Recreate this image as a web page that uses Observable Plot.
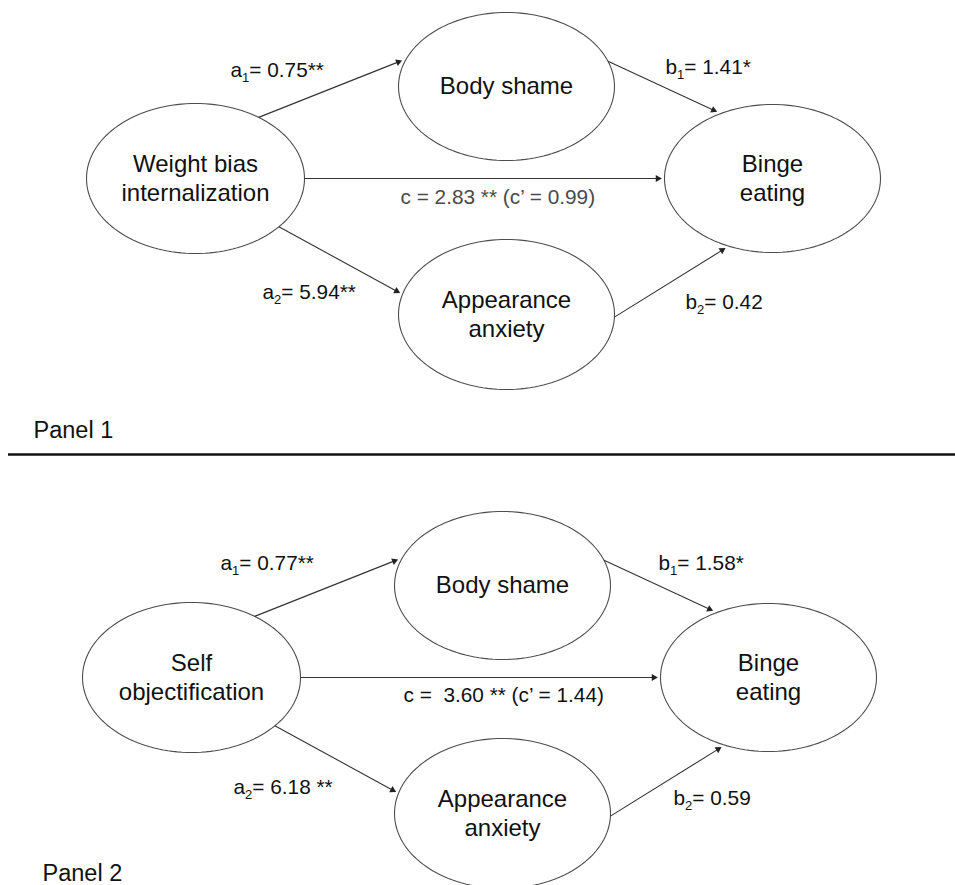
<!DOCTYPE html>
<html><head><meta charset="utf-8">
<script src="https://cdn.jsdelivr.net/npm/d3@7"></script>
<script src="https://cdn.jsdelivr.net/npm/@observablehq/plot@0.6"></script>
<style>
html,body{margin:0;padding:0;background:#fff;}
#chart svg text{white-space:pre;}
</style></head><body><div id="chart"></div>
<script>
// ---------------- data ----------------
const panels = ["Panel 1", "Panel 2"];
const predictors = ["Weight bias\ninternalization", "Self\nobjectification"];
const mediators = ["Body shame", "Appearance\nanxiety"];
const outcomeName = "Binge\neating";
const a1Values = [0.75, 0.77];
const a1Sig = ["**", "**"];
const a2Values = [5.94, 6.18];
const a2Sig = ["**", " **"];
const b1Values = [1.41, 1.58];
const b1Sig = ["*", "*"];
const b2Values = [0.42, 0.59];
const b2Sig = ["", ""];
const cValues = [2.83, 3.60];
const cSig = ["**", "**"];
const cPrimeValues = [0.99, 1.44];
const cSpacing = [" ", "  "];

// ---------------- layout (positions & styles) ----------------
const W = 955, H = 885;
const panelShift = [{dx: 0, dy: 0}, {dx: -4, dy: 499}];
const nodeGeom = {
  X:  {cx: 195, cy: 178, rx: 109, ry: 75},
  M1: {cx: 506, cy: 86,  rx: 108, ry: 74},
  M2: {cx: 506, cy: 314, rx: 108, ry: 75},
  Y:  {cx: 772, cy: 178, rx: 108, ry: 74}
};
const edgeGeom = [
  {from: "X",  to: "M1", a0: -54.6, a1: -160.6},
  {from: "X",  to: "Y",  a0: 0,     a1: 180},
  {from: "X",  to: "M2", a0: 40.1,  a1: 196.2},
  {from: "M1", to: "Y",  a0: -19.9, a1: -120.2},
  {from: "M2", to: "Y",  a0: 2,     a1: 115.3}
];
const labelPos = [
  {a1: [230, 70], b1: [665, 67], c: [400, 197], a2: [262, 292], b2: [685, 302], panel: [33, 430]},
  {a1: [220, 563], b1: [658, 563], c: [403, 695], a2: [233, 787], b2: [673, 798], panel: [42, 873]}
];
const dividerY = 454;

// ---------------- build tables ----------------
function pt(g, deg, gap, s) {
  const t = deg * Math.PI / 180;
  return [g.cx + (g.rx + gap) * Math.cos(t) + s.dx, g.cy + (g.ry + gap) * Math.sin(t) + s.dy];
}
const ellipsePts = [];
const nodeLabels = [];
const links = [];
const heads = [];
const edgeLabels = [];
const panelLabels = [];
panels.forEach((p, i) => {
  const s = panelShift[i];
  const names = {X: predictors[i], M1: mediators[0], M2: mediators[1], Y: outcomeName};
  Object.entries(nodeGeom).forEach(([k, g]) => {
    for (let j = 0; j < 144; j++) {
      const [x, y] = pt(g, j * 2.5, 0, s);
      ellipsePts.push({id: p + k, x, y});
    }
    nodeLabels.push({x: g.cx + s.dx, y: g.cy + s.dy, text: names[k]});
  });
  edgeGeom.forEach(e => {
    const [x1, y1] = pt(nodeGeom[e.from], e.a0, 0, s);
    const [tx, ty] = pt(nodeGeom[e.to], e.a1, 3.5, s);
    const len = Math.hypot(tx - x1, ty - y1);
    const ux = (tx - x1) / len, uy = (ty - y1) / len;
    links.push({x1, y1, x2: tx - ux * 3, y2: ty - uy * 3});
    heads.push({x: tx - ux * 3.2, y: ty - uy * 3.2, rotate: Math.atan2(uy, ux) * 180 / Math.PI + 90});
  });
  const L = labelPos[i];
  edgeLabels.push({x: L.a1[0], y: L.a1[1], text: `a_1= ${a1Values[i].toFixed(2)}${a1Sig[i]}`, gray: false});
  edgeLabels.push({x: L.a2[0], y: L.a2[1], text: `a_2= ${a2Values[i].toFixed(2)}${a2Sig[i]}`, gray: false});
  edgeLabels.push({x: L.b1[0], y: L.b1[1], text: `b_1= ${b1Values[i].toFixed(2)}${b1Sig[i]}`, gray: false});
  edgeLabels.push({x: L.b2[0], y: L.b2[1], text: `b_2= ${b2Values[i].toFixed(2)}${b2Sig[i]}`, gray: false});
  edgeLabels.push({x: L.c[0], y: L.c[1], text: `c =${cSpacing[i]}${cValues[i].toFixed(2)} ${cSig[i]} (c’ = ${cPrimeValues[i].toFixed(2)})`, gray: i === 0});
  panelLabels.push({x: L.panel[0], y: L.panel[1], text: p});
});

const font = "'Liberation Sans', Arial, Helvetica, sans-serif";
const chart = Plot.plot({
  width: W, height: H,
  margin: 0,
  style: {fontFamily: font, background: "#fff", overflow: "visible"},
  x: {domain: [0, W], range: [0, W], axis: null},
  y: {domain: [0, H], range: [0, H], axis: null},
  marks: [
    Plot.line(ellipsePts, {x: "x", y: "y", z: "id", curve: "linear-closed", stroke: "#4d4d4d", strokeWidth: 1.1}),
    Plot.link(links, {x1: "x1", y1: "y1", x2: "x2", y2: "y2", stroke: "#333", strokeWidth: 1.1}),
    Plot.dot(heads, {x: "x", y: "y", rotate: "rotate", symbol: "triangle", r: 2.6, fill: "#222", stroke: "none"}),
    Plot.ruleY([{y: dividerY, x1: 8, x2: W}], {y: "y", x1: "x1", x2: "x2", stroke: "#111", strokeWidth: 2.5}),
    Plot.text(nodeLabels, {x: "x", y: "y", dy: -1.5, text: "text", fontSize: 24, lineHeight: 1.22, fill: "#111", textAnchor: "middle"}),
    Plot.text(edgeLabels, {x: "x", y: "y", text: "text", fontSize: 20.8, textAnchor: "start", fill: d => d.gray ? "#4a4a4a" : "#111"}),
    Plot.text(panelLabels, {x: "x", y: "y", text: "text", fontSize: 23.5, textAnchor: "start", fill: "#111"})
  ]
});
// turn "a_1" into a real subscript
chart.querySelectorAll("text").forEach(t => {
  const s = t.textContent;
  if (t.children.length === 0 && s.includes("_")) {
    const idx = s.indexOf("_");
    const before = s.slice(0, idx), sub = s[idx + 1], rest = s.slice(idx + 2);
    t.textContent = "";
    const ns = "http://www.w3.org/2000/svg";
    const t1 = document.createElementNS(ns, "tspan"); t1.textContent = before;
    const t2 = document.createElementNS(ns, "tspan"); t2.textContent = sub;
    t2.setAttribute("font-size", "13"); t2.setAttribute("dy", "5");
    const t3 = document.createElementNS(ns, "tspan"); t3.textContent = rest;
    t3.setAttribute("dy", "-5");
    t.append(t1, t2, t3);
  }
});
document.getElementById("chart").append(chart);
</script></body></html>
